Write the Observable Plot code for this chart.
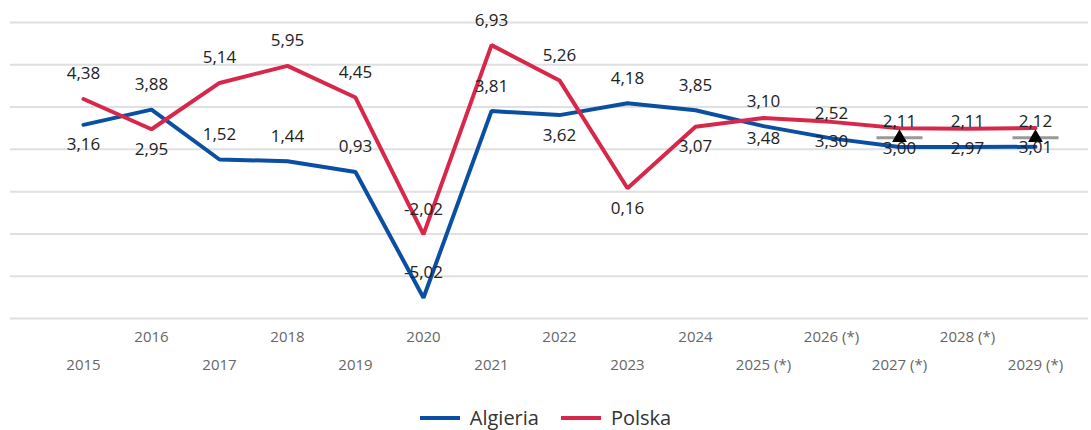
<!DOCTYPE html>
<html><head><meta charset="utf-8">
<script src="https://cdn.jsdelivr.net/npm/d3@7"></script>
<script src="https://cdn.jsdelivr.net/npm/@observablehq/plot@0.6"></script>
<style>
html,body{margin:0;background:#fff;font-family:"Open Sans",sans-serif;overflow:hidden;}
#chart svg{display:block;}
#legend{box-sizing:border-box;display:flex;justify-content:center;gap:22px;height:40px;padding-top:16px;line-height:24px;align-items:center;font-size:20px;color:#333;}
#legend span.item{display:inline-flex;align-items:center;height:24px;}
.sw{display:inline-block;width:40px;height:4px;margin-right:10px;}
</style></head><body><div id="chart"></div><div id="legend"></div>
<script>
const years = ["2015","2016","2017","2018","2019","2020","2021","2022","2023","2024","2025 (*)","2026 (*)","2027 (*)","2028 (*)","2029 (*)"];
const algieria = [3.16, 3.88, 1.52, 1.44, 0.93, -5.02, 3.81, 3.62, 4.18, 3.85, 3.10, 2.52, 2.11, 2.11, 2.12];
const polska = [4.38, 2.95, 5.14, 5.95, 4.45, -2.02, 6.93, 5.26, 0.16, 3.07, 3.48, 3.30, 3.00, 2.97, 3.01];
const algieriaLabelBelow = ["2015","2022"];
const polskaLabelBelow = ["2016","2023","2024","2025 (*)","2026 (*)","2027 (*)","2028 (*)","2029 (*)"];
const markerYears = ["2027 (*)","2029 (*)"];
const markerValue = 2.55;
const yTicks = [-6,-4,-2,0,2,4,6,8];
const seriesNames = ["Algieria","Polska"];
const seriesColors = ["#0b4fa3","#d7284b"];

const rows = [
  ...years.map((y,i)=>({year:y, value:algieria[i], series:"Algieria", below:algieriaLabelBelow.includes(y)})),
  ...years.map((y,i)=>({year:y, value:polska[i], series:"Polska", below:polskaLabelBelow.includes(y)}))
];
const fmt = v => v.toFixed(2).replace(".", ",");
const hbar = {draw(ctx, size){ const r = Math.sqrt(size/Math.PI); ctx.moveTo(-r,0); ctx.lineTo(r,0); }};

const chart = Plot.plot({
  width:1091, height:390,
  marginLeft:10, marginRight:3, marginTop:22, marginBottom:72,
  style:{fontFamily:"'Open Sans', sans-serif", background:"#fff", maxWidth:"none"},
  x:{type:"point", domain:years, padding:0, insetLeft:68, insetRight:48, axis:null, label:null},
  y:{domain:[-6,8], axis:null},
  color:{domain:seriesNames, range:seriesColors},
  marks:[
    Plot.ruleY(yTicks,{stroke:"#e0e0e0", strokeWidth:2}),
    Plot.axisX(years.filter((d,i)=>i%2===1),{tickSize:0, tickPadding:13, fontSize:15, fill:"#666", label:null}),
    Plot.axisX(years.filter((d,i)=>i%2===0),{tickSize:0, tickPadding:41, fontSize:15, fill:"#666", label:null}),
    Plot.line(rows,{x:"year", y:"value", z:"series", stroke:"series", strokeWidth:4, strokeLinejoin:"miter"}),
    Plot.dot(markerYears,{x:d=>d, y:()=>markerValue, symbol:hbar, r:23, stroke:"#999", strokeWidth:3, fill:"none"}),
    Plot.dot(markerYears,{x:d=>d, y:()=>markerValue, symbol:"triangle", r:5.5, fill:"#000"}),
    Plot.text(rows.filter(d=>!d.below),{x:"year", y:"value", text:d=>fmt(d.value), dy:-25, fontSize:17, fill:"#222"}),
    Plot.text(rows.filter(d=>d.below),{x:"year", y:"value", text:d=>fmt(d.value), dy:20, fontSize:17, fill:"#222"})
  ]
});
document.getElementById("chart").append(chart);
const lg = document.getElementById("legend");
seriesNames.forEach((n,i)=>{
  const s = document.createElement("span"); s.className="item";
  s.innerHTML = `<span class="sw" style="background:${seriesColors[i]}"></span>${n}`;
  lg.append(s);
});
</script></body></html>
